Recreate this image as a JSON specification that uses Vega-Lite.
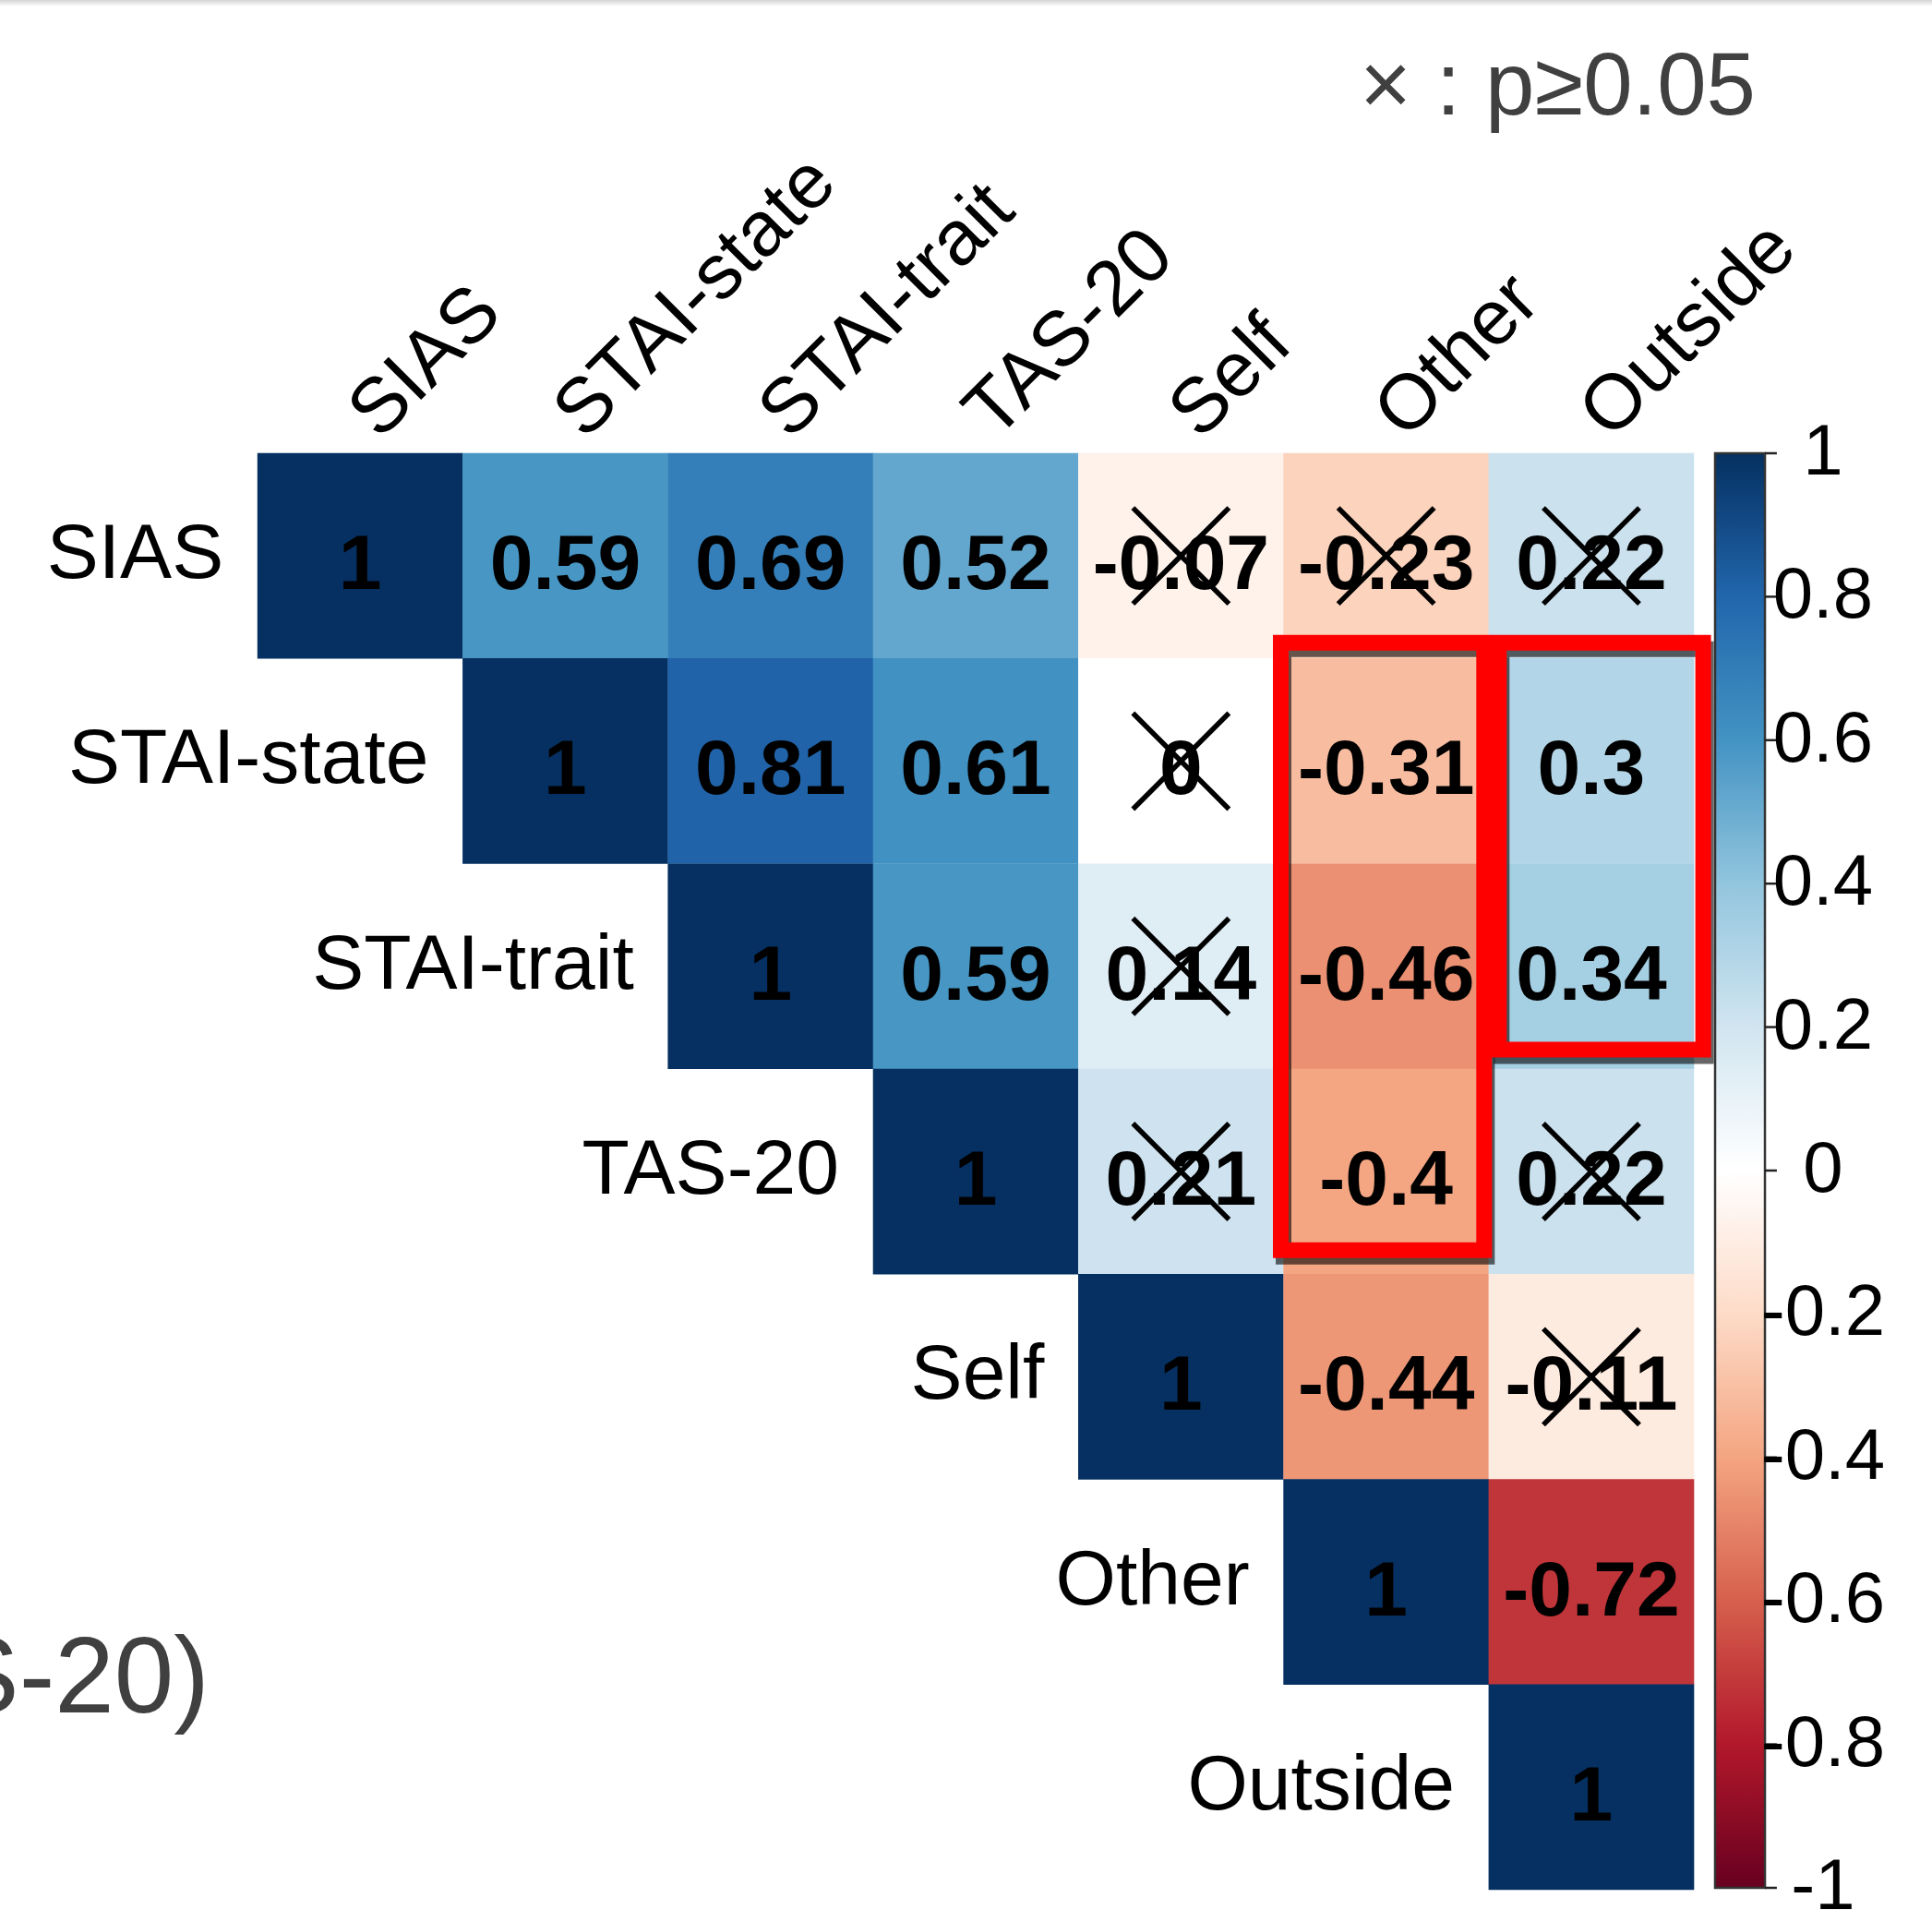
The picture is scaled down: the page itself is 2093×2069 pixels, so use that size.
{
  "$schema": "https://vega.github.io/schema/vega-lite/v6.json",
  "width": 2093,
  "height": 2069,
  "autosize": {"type": "none"},
  "padding": 0,
  "background": "white",
  "config": {
    "view": {"stroke": null},
    "font": "Liberation Sans",
    "locale": {"number": {"decimal": ".", "thousands": ",", "grouping": [3], "currency": ["$", ""], "minus": "-"}}
  },
  "datasets": {
    "cells": [
      {"row": "SIAS", "col": "SIAS", "r": 0, "c": 0, "value": 1, "ns": false},
      {"row": "SIAS", "col": "STAI-state", "r": 0, "c": 1, "value": 0.59, "ns": false},
      {"row": "SIAS", "col": "STAI-trait", "r": 0, "c": 2, "value": 0.69, "ns": false},
      {"row": "SIAS", "col": "TAS-20", "r": 0, "c": 3, "value": 0.52, "ns": false},
      {"row": "SIAS", "col": "Self", "r": 0, "c": 4, "value": -0.07, "ns": true},
      {"row": "SIAS", "col": "Other", "r": 0, "c": 5, "value": -0.23, "ns": true},
      {"row": "SIAS", "col": "Outside", "r": 0, "c": 6, "value": 0.22, "ns": true},
      {"row": "STAI-state", "col": "STAI-state", "r": 1, "c": 1, "value": 1, "ns": false},
      {"row": "STAI-state", "col": "STAI-trait", "r": 1, "c": 2, "value": 0.81, "ns": false},
      {"row": "STAI-state", "col": "TAS-20", "r": 1, "c": 3, "value": 0.61, "ns": false},
      {"row": "STAI-state", "col": "Self", "r": 1, "c": 4, "value": 0, "ns": true},
      {"row": "STAI-state", "col": "Other", "r": 1, "c": 5, "value": -0.31, "ns": false},
      {"row": "STAI-state", "col": "Outside", "r": 1, "c": 6, "value": 0.3, "ns": false},
      {"row": "STAI-trait", "col": "STAI-trait", "r": 2, "c": 2, "value": 1, "ns": false},
      {"row": "STAI-trait", "col": "TAS-20", "r": 2, "c": 3, "value": 0.59, "ns": false},
      {"row": "STAI-trait", "col": "Self", "r": 2, "c": 4, "value": 0.14, "ns": true},
      {"row": "STAI-trait", "col": "Other", "r": 2, "c": 5, "value": -0.46, "ns": false},
      {"row": "STAI-trait", "col": "Outside", "r": 2, "c": 6, "value": 0.34, "ns": false},
      {"row": "TAS-20", "col": "TAS-20", "r": 3, "c": 3, "value": 1, "ns": false},
      {"row": "TAS-20", "col": "Self", "r": 3, "c": 4, "value": 0.21, "ns": true},
      {"row": "TAS-20", "col": "Other", "r": 3, "c": 5, "value": -0.4, "ns": false},
      {"row": "TAS-20", "col": "Outside", "r": 3, "c": 6, "value": 0.22, "ns": true},
      {"row": "Self", "col": "Self", "r": 4, "c": 4, "value": 1, "ns": false},
      {"row": "Self", "col": "Other", "r": 4, "c": 5, "value": -0.44, "ns": false},
      {"row": "Self", "col": "Outside", "r": 4, "c": 6, "value": -0.11, "ns": true},
      {"row": "Other", "col": "Other", "r": 5, "c": 5, "value": 1, "ns": false},
      {"row": "Other", "col": "Outside", "r": 5, "c": 6, "value": -0.72, "ns": false},
      {"row": "Outside", "col": "Outside", "r": 6, "c": 6, "value": 1, "ns": false}
    ],
    "vars": [
      {"name": "SIAS", "i": 0},
      {"name": "STAI-state", "i": 1},
      {"name": "STAI-trait", "i": 2},
      {"name": "TAS-20", "i": 3},
      {"name": "Self", "i": 4},
      {"name": "Other", "i": 5},
      {"name": "Outside", "i": 6}
    ],
    "boxes": [
      {"box": "Other", "x1": 4.5, "x2": 5.5, "y1": 0.5, "y2": 3.5},
      {"box": "Outside", "x1": 5.5, "x2": 6.5, "y1": 0.5, "y2": 2.5}
    ],
    "ticks": [
      {"t": -1}, {"t": -0.8}, {"t": -0.6}, {"t": -0.4}, {"t": -0.2}, {"t": 0},
      {"t": 0.2}, {"t": 0.4}, {"t": 0.6}, {"t": 0.8}, {"t": 1}
    ],
    "notes": [
      {"note": "× : p≥0.05", "u": 4.871, "v": -2.151},
      {"note": "(TAS-20)", "u": -0.734, "v": 5.636}
    ]
  },
  "resolve": {"scale": {"y": "independent"}},
  "layer": [
    {
      "data": {"values": [{"band": "top"}]},
      "mark": {"type": "rect", "fill": {"gradient": "linear", "x1": 0, "y1": 0, "x2": 0, "y2": 1, "stops": [{"offset": 0, "color": "#d4d4d4"}, {"offset": 1, "color": "#ffffff"}]}},
      "encoding": {
        "x": {"datum": -1.7551, "type": "quantitative", "scale": {"type": "linear", "domain": [-1.7551, 7.6601], "nice": false, "zero": false}, "axis": null},
        "x2": {"datum": 7.6601},
        "y": {"datum": -2.7087, "type": "quantitative", "scale": {"type": "linear", "domain": [-2.7087, 6.5985], "reverse": true, "nice": false, "zero": false}, "axis": null},
        "y2": {"datum": -2.6772}
      }
    },
    {
      "data": {"name": "cells"},
      "mark": {"type": "point", "shape": "square", "filled": true, "size": 49600, "opacity": 1, "strokeWidth": 0},
      "encoding": {
        "x": {"field": "c", "type": "quantitative", "scale": {"type": "linear", "domain": [-1.7551, 7.6601], "nice": false, "zero": false}, "axis": null},
        "y": {"field": "r", "type": "quantitative", "scale": {"type": "linear", "domain": [-2.7087, 6.5985], "reverse": true, "nice": false, "zero": false}, "axis": null},
        "color": {
          "field": "value",
          "type": "quantitative",
          "scale": {"type": "linear", "interpolate": "rgb", "domain": [-1, -0.8, -0.6, -0.4, -0.2, 0, 0.2, 0.4, 0.6, 0.8, 1], "range": ["#67001F", "#B2182B", "#D6604D", "#F4A582", "#FDDBC7", "#FFFFFF", "#D1E5F0", "#92C5DE", "#4393C3", "#2166AC", "#053061"]},
          "legend": null
        }
      }
    },
    {
      "data": {"name": "cells"},
      "mark": {"type": "text", "font": "Liberation Sans", "fontSize": 84, "fontWeight": "bold", "align": "center", "baseline": "alphabetic", "dy": 36, "color": "#000000"},
      "encoding": {
        "x": {"field": "c", "type": "quantitative", "scale": {"type": "linear", "domain": [-1.7551, 7.6601], "nice": false, "zero": false}, "axis": null},
        "y": {"field": "r", "type": "quantitative", "scale": {"type": "linear", "domain": [-2.7087, 6.5985], "reverse": true, "nice": false, "zero": false}, "axis": null},
        "text": {"field": "value", "type": "quantitative", "format": "~g"}
      }
    },
    {
      "data": {"name": "cells"},
      "transform": [{"filter": "datum.ns"}],
      "mark": {"type": "point", "shape": "M-1,-1L1,1M1,-1L-1,1", "filled": false, "size": 10816, "opacity": 1, "stroke": "#000000", "strokeWidth": 5.5},
      "encoding": {
        "x": {"field": "c", "type": "quantitative", "scale": {"type": "linear", "domain": [-1.7551, 7.6601], "nice": false, "zero": false}, "axis": null},
        "y": {"field": "r", "type": "quantitative", "scale": {"type": "linear", "domain": [-2.7087, 6.5985], "reverse": true, "nice": false, "zero": false}, "axis": null}
      }
    },
    {
      "data": {"name": "vars"},
      "mark": {"type": "text", "font": "Liberation Sans", "fontSize": 84, "align": "right", "baseline": "alphabetic", "dx": -148, "dy": 24, "color": "#000000"},
      "encoding": {
        "x": {"field": "i", "type": "quantitative", "scale": {"type": "linear", "domain": [-1.7551, 7.6601], "nice": false, "zero": false}, "axis": null},
        "y": {"field": "i", "type": "quantitative", "scale": {"type": "linear", "domain": [-2.7087, 6.5985], "reverse": true, "nice": false, "zero": false}, "axis": null},
        "text": {"field": "name"}
      }
    },
    {
      "data": {"name": "vars"},
      "mark": {"type": "text", "font": "Liberation Sans", "fontSize": 84, "align": "left", "baseline": "alphabetic", "angle": -45, "xOffset": 21, "yOffset": -13, "color": "#000000"},
      "encoding": {
        "x": {"field": "i", "type": "quantitative", "scale": {"type": "linear", "domain": [-1.7551, 7.6601], "nice": false, "zero": false}, "axis": null},
        "y": {"datum": -0.5, "type": "quantitative", "scale": {"type": "linear", "domain": [-2.7087, 6.5985], "reverse": true, "nice": false, "zero": false}, "axis": null},
        "text": {"field": "name"}
      }
    },
    {
      "data": {"name": "boxes"},
      "transform": [{"filter": "datum.box === 'Other'"}],
      "mark": {"type": "rect", "filled": false, "stroke": "#000000", "strokeWidth": 17, "opacity": 0.6, "xOffset": 0, "x2Offset": -2, "yOffset": -10, "y2Offset": -19},
      "encoding": {
        "x": {"field": "x1", "type": "quantitative", "scale": {"type": "linear", "domain": [-1.7551, 7.6601], "nice": false, "zero": false}, "axis": null},
        "x2": {"field": "x2"},
        "y": {"field": "y1", "type": "quantitative", "scale": {"type": "linear", "domain": [-2.7087, 6.5985], "reverse": true, "nice": false, "zero": false}, "axis": null},
        "y2": {"field": "y2"}
      }
    },
    {
      "data": {"name": "boxes"},
      "transform": [{"filter": "datum.box === 'Outside'"}],
      "mark": {"type": "rect", "filled": false, "stroke": "#000000", "strokeWidth": 17, "opacity": 0.6, "xOffset": 14, "x2Offset": 13, "yOffset": -10, "y2Offset": -14},
      "encoding": {
        "x": {"field": "x1", "type": "quantitative", "scale": {"type": "linear", "domain": [-1.7551, 7.6601], "nice": false, "zero": false}, "axis": null},
        "x2": {"field": "x2"},
        "y": {"field": "y1", "type": "quantitative", "scale": {"type": "linear", "domain": [-2.7087, 6.5985], "reverse": true, "nice": false, "zero": false}, "axis": null},
        "y2": {"field": "y2"}
      }
    },
    {
      "data": {"name": "boxes"},
      "transform": [{"filter": "datum.box === 'Other'"}],
      "mark": {"type": "rect", "filled": false, "stroke": "#ff0000", "strokeWidth": 17, "opacity": 1, "xOffset": -3, "x2Offset": -5, "yOffset": -17, "y2Offset": -26},
      "encoding": {
        "x": {"field": "x1", "type": "quantitative", "scale": {"type": "linear", "domain": [-1.7551, 7.6601], "nice": false, "zero": false}, "axis": null},
        "x2": {"field": "x2"},
        "y": {"field": "y1", "type": "quantitative", "scale": {"type": "linear", "domain": [-2.7087, 6.5985], "reverse": true, "nice": false, "zero": false}, "axis": null},
        "y2": {"field": "y2"}
      }
    },
    {
      "data": {"name": "boxes"},
      "transform": [{"filter": "datum.box === 'Outside'"}],
      "mark": {"type": "rect", "filled": false, "stroke": "#ff0000", "strokeWidth": 17, "opacity": 1, "xOffset": 11, "x2Offset": 10, "yOffset": -17, "y2Offset": -21},
      "encoding": {
        "x": {"field": "x1", "type": "quantitative", "scale": {"type": "linear", "domain": [-1.7551, 7.6601], "nice": false, "zero": false}, "axis": null},
        "x2": {"field": "x2"},
        "y": {"field": "y1", "type": "quantitative", "scale": {"type": "linear", "domain": [-2.7087, 6.5985], "reverse": true, "nice": false, "zero": false}, "axis": null},
        "y2": {"field": "y2"}
      }
    },
    {
      "data": {"name": "notes"},
      "transform": [{"filter": "datum.note === '× : p≥0.05'"}],
      "mark": {"type": "text", "font": "Liberation Sans", "fontSize": 96, "align": "left", "baseline": "alphabetic", "color": "#404040"},
      "encoding": {
        "x": {"field": "u", "type": "quantitative", "scale": {"type": "linear", "domain": [-1.7551, 7.6601], "nice": false, "zero": false}, "axis": null},
        "y": {"field": "v", "type": "quantitative", "scale": {"type": "linear", "domain": [-2.7087, 6.5985], "reverse": true, "nice": false, "zero": false}, "axis": null},
        "text": {"field": "note"}
      }
    },
    {
      "data": {"name": "notes"},
      "transform": [{"filter": "datum.note === '(TAS-20)'"}],
      "mark": {"type": "text", "font": "Liberation Sans", "fontSize": 116, "align": "right", "baseline": "alphabetic", "color": "#404040"},
      "encoding": {
        "x": {"field": "u", "type": "quantitative", "scale": {"type": "linear", "domain": [-1.7551, 7.6601], "nice": false, "zero": false}, "axis": null},
        "y": {"field": "v", "type": "quantitative", "scale": {"type": "linear", "domain": [-2.7087, 6.5985], "reverse": true, "nice": false, "zero": false}, "axis": null},
        "text": {"field": "note"}
      }
    },
    {
      "data": {"values": [{"bar": "colorbar"}]},
      "mark": {
        "type": "rect",
        "stroke": "#333333",
        "strokeWidth": 2.5,
        "fill": {
          "gradient": "linear", "x1": 0, "y1": 0, "x2": 0, "y2": 1,
          "stops": [
            {"offset": 0, "color": "#053061"},
            {"offset": 0.1, "color": "#2166AC"},
            {"offset": 0.2, "color": "#4393C3"},
            {"offset": 0.3, "color": "#92C5DE"},
            {"offset": 0.4, "color": "#D1E5F0"},
            {"offset": 0.5, "color": "#FFFFFF"},
            {"offset": 0.6, "color": "#FDDBC7"},
            {"offset": 0.7, "color": "#F4A582"},
            {"offset": 0.8, "color": "#D6604D"},
            {"offset": 0.9, "color": "#B2182B"},
            {"offset": 1, "color": "#67001F"}
          ]
        }
      },
      "encoding": {
        "x": {"datum": 6.603, "type": "quantitative", "scale": {"type": "linear", "domain": [-1.7551, 7.6601], "nice": false, "zero": false}, "axis": null},
        "x2": {"datum": 6.846},
        "y": {"datum": 1, "type": "quantitative", "scale": {"type": "linear", "domain": [-1.0309, 1.6319], "nice": false, "zero": false}, "axis": null},
        "y2": {"datum": -1}
      }
    },
    {
      "data": {"name": "ticks"},
      "mark": {"type": "rule", "stroke": "#222222", "strokeWidth": 2.5},
      "encoding": {
        "x": {"datum": 6.846, "type": "quantitative", "scale": {"type": "linear", "domain": [-1.7551, 7.6601], "nice": false, "zero": false}, "axis": null},
        "x2": {"datum": 6.904},
        "y": {"field": "t", "type": "quantitative", "scale": {"type": "linear", "domain": [-1.0309, 1.6319], "nice": false, "zero": false}, "axis": null}
      }
    },
    {
      "data": {"name": "ticks"},
      "mark": {"type": "text", "font": "Liberation Sans", "fontSize": 78, "align": "center", "baseline": "middle", "color": "#000000"},
      "encoding": {
        "x": {"datum": 7.129, "type": "quantitative", "scale": {"type": "linear", "domain": [-1.7551, 7.6601], "nice": false, "zero": false}, "axis": null},
        "y": {"field": "t", "type": "quantitative", "scale": {"type": "linear", "domain": [-1.0309, 1.6319], "nice": false, "zero": false}, "axis": null},
        "text": {"field": "t", "type": "quantitative", "format": "~g"}
      }
    }
  ]
}
